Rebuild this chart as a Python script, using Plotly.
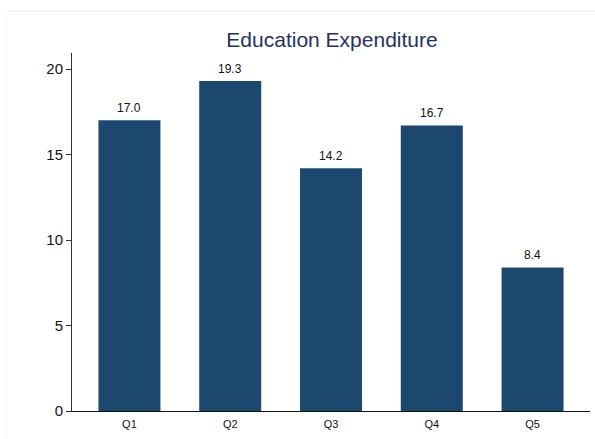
import plotly.graph_objects as go

# Quintile categories and spending values
quintiles = ["Q1", "Q2", "Q3", "Q4", "Q5"]
expenditure = [17.0, 19.3, 14.2, 16.7, 8.4]
y_ticks = [0, 5, 10, 15, 20]

bar_color = "#1c4870"
font_family = "Liberation Sans, Arial, sans-serif"

fig = go.Figure(
    go.Bar(
        x=quintiles,
        y=expenditure,
        marker=dict(color=bar_color, line=dict(width=0)),
        hoverinfo="x+y",
    )
)

# Value labels sitting above each bar
for q, v in zip(quintiles, expenditure):
    fig.add_annotation(
        x=q, y=v, xref="x", yref="y",
        text=f"{v:.1f}",
        showarrow=False,
        yanchor="bottom",
        yshift=3,
        font=dict(size=12, color="#111111", family=font_family),
    )

fig.update_layout(
    width=595,
    height=439,
    margin=dict(l=72, r=5, t=53, b=28),
    paper_bgcolor="white",
    plot_bgcolor="white",
    bargap=0.385,
    showlegend=False,
    title=dict(
        text="Education Expenditure",
        x=332 / 595,
        xanchor="center",
        y=1 - 40 / 439,
        yanchor="middle",
        font=dict(size=21, color="#25325e", family=font_family),
    ),
    font=dict(family=font_family, color="#111111"),
    xaxis=dict(
        range=[-0.57, 4.57],
        showline=True,
        linecolor="#111111",
        linewidth=1,
        ticks="",
        ticklabelstandoff=3,
        showgrid=False,
        zeroline=False,
        tickfont=dict(size=11, color="#111111"),
    ),
    yaxis=dict(
        range=[0, 20.94],
        tickvals=y_ticks,
        showline=True,
        linecolor="#333333",
        linewidth=1,
        ticks="outside",
        ticklen=5,
        tickcolor="#333333",
        showgrid=False,
        zeroline=False,
        tickfont=dict(size=15, color="#111111"),
    ),
    shapes=[
        dict(
            type="line", xref="paper", yref="paper",
            x0=(7 - 72) / 518, x1=(595 - 72) / 518,
            y0=(411 - 11) / 358, y1=(411 - 11) / 358,
            line=dict(color="#e6ecee", width=1),
        ),
        dict(
            type="line", xref="paper", yref="paper",
            x0=(7 - 72) / 518, x1=(7 - 72) / 518,
            y0=(411 - 11) / 358, y1=(411 - 439) / 358,
            line=dict(color="#f7f9fa", width=1),
        ),
    ],
)

fig.write_html("out.html")
